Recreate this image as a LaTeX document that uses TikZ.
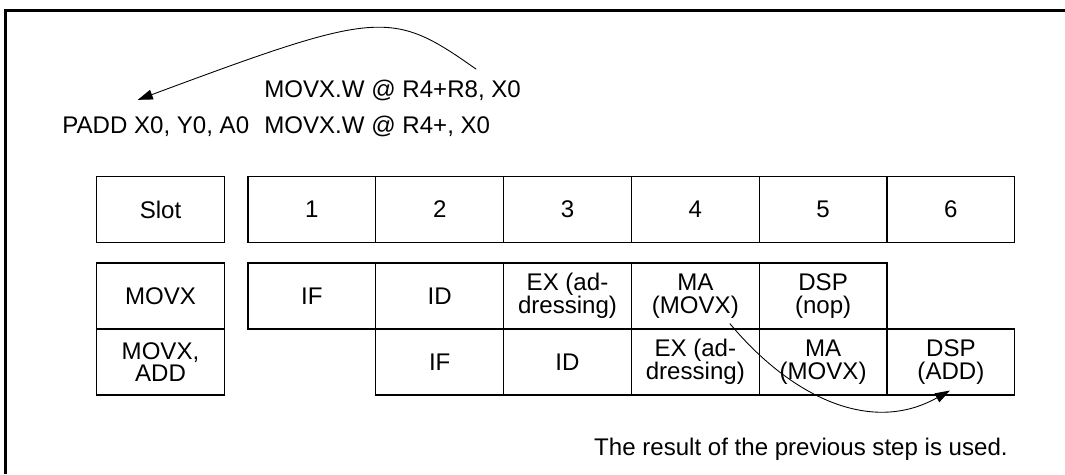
\documentclass[tikz,border=0pt]{standalone}
\usepackage{fontspec}
\setmainfont{Liberation Sans}
\usetikzlibrary{arrows.meta}
\tikzset{
  cellbox/.style={ draw, line width=0.6pt, minimum width=2.556cm, minimum height=1.32cm, inner sep=0pt, align=center, font=\fontsize{13.7}{12.8}\selectfont }
}
\tikzset{
  plaintxt/.style={ inner sep=0pt, font=\fontsize{13.7}{15}\selectfont }
}
\tikzset{
  usearrow/.style={ -{Triangle[length=0.3cm, width=0.2cm]}, line width=0.5pt }
}
\begin{document}
\begin{tikzpicture}[x=0.02cm, y=-0.02cm]
      \useasboundingbox (0,0) rectangle (1065,474);
      \draw[line width=1.6pt] (5.5,474) -- (5.5,10.5) -- (1065,10.5);
      % instruction pair
      \node[plaintxt, anchor=base west] (ldA) at (264,97) {MOVX.W @ R4+R8, X0};
      \node[plaintxt, anchor=base west] (padd) at (62,133) {PADD X0, Y0, A0};
      \node[plaintxt, anchor=base west] (ldB) at (264,133) {MOVX.W @ R4+, X0};
      \draw[usearrow] ([shift={(-45,-10)}]ldA.north east) .. controls +(-85,-60) and +(242,-90) .. ([shift={(-18,-16)}]padd.north);
      % slot header
      \node[cellbox] (slot) at (160.5,209.5) {Slot};
      \foreach \i in {1,...,6}
        \node[cellbox] (c\i) at ({248+127.8*(\i-0.5)},209.5) {\i};
      % first instruction
      \node[cellbox] (movx) at (160.5,296) {MOVX};
      \foreach \i/\t in {1/IF, 2/ID, 3/{EX (ad-\\dressing)}, 4/{MA\\(MOVX)}, 5/{DSP\\(nop)}}
        \node[cellbox] (a\i) at ({248+127.8*(\i-0.5)},296) {\t};
      % second instruction
      \node[cellbox] (movxadd) at (160.5,362) {MOVX,\\ADD};
      \foreach \i/\t in {2/IF, 3/ID, 4/{EX (ad-\\dressing)}, 5/{MA\\(MOVX)}, 6/{DSP\\(ADD)}}
        \node[cellbox] (b\i) at ({248+127.8*(\i-0.5)},362) {\t};
      \draw[usearrow] ([shift={(34.5,-6)}]a4.south) .. controls +(60,72) and +(-80,45) .. ([shift={(-1,-5)}]b6.south);
      \node[plaintxt, anchor=base east] (note) at (1008,455) {The result of the previous step is used.};
    \end{tikzpicture}
\end{document}
